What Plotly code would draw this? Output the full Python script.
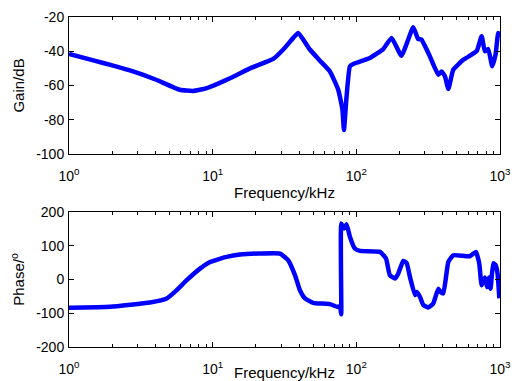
import plotly.graph_objects as go

# ---- data ----
freq_gain = [1, 1.5, 2, 2.79, 4, 5.9, 7.3, 9.1, 13.8, 18.2, 26.4, 31, 36.4, 39.4, 47.5, 55.8,
             65.5, 74.8, 80, 82, 85.2, 90.2, 96, 124, 154, 176, 206, 249, 269, 284, 325, 372,
             392, 414, 437, 473, 555, 687, 745, 785, 828, 883, 931, 972, 1000]
gain_db = [-41.5, -45.5, -48.3, -51.8, -56.5, -62.5, -63.2, -61.5, -55, -50, -44.5, -39, -32.2,
           -29.3, -39, -45.5, -51.8, -62.5, -74, -86, -68, -48.8, -47.3, -44, -38.7, -32.2,
           -42.6, -26, -32.8, -33.2, -43, -53.7, -51.8, -54.7, -62, -50.8, -45, -40, -31.2,
           -40, -38.7, -48.8, -42, -29.3, -31]

freq_phase = [1, 1.93, 3.66, 4.79, 5.6, 6.6, 8.2, 9.6, 12.5, 15.5, 21, 29.4, 33.6, 37.4, 40.5,
              43.9, 50, 65.5, 73.6, 76.9, 78.5, 78.6, 82.4, 85.5, 90.2, 97.7, 106, 146, 161,
              171, 186, 196, 212, 224, 236, 256, 263, 277, 293, 317, 343, 372, 386, 403, 437,
              473, 617, 679, 717, 745, 785, 815, 841, 860, 898, 931, 960, 990]
phase_deg = [-84, -81, -68, -56, -32, -2, 33, 52, 67, 74, 77, 77, 57, 13, -32, -56, -69, -73,
             -81, -79, -103, 166, 151, 164, 127, 92, 85, 82, 62, 13, 3, 18, 55, 49, 8, -46,
             -37, -51, -76, -83, -71, -27, -37, -41, 52, 72, 69, 82, 48, -17, 6, -22, 6, -27,
             48, 43, 20, -56]

gain_ticks = [-100, -80, -60, -40, -20]
gain_tick_text = ["-100", "-80", "-60", "-40", "-20"]
phase_ticks = [-200, -100, 0, 100, 200]
phase_tick_text = ["-200", "-100", "0", "100", "200"]
freq_ticks = [1, 10, 100, 1000]
freq_tick_text = ["10<sup>0</sup>", "10<sup>1</sup>", "10<sup>2</sup>", "10<sup>3</sup>"]
minor_ticks = [m * 10 ** d for d in range(3) for m in range(2, 10)]

LINE = dict(color="#0000ff", width=4.5, shape="spline", smoothing=0.4)
FAMILY = "Liberation Sans, Arial, sans-serif"
TICKFONT = dict(family=FAMILY, size=14, color="black")
TITLEFONT = dict(family=FAMILY, size=15, color="black")

fig = go.Figure()
fig.add_trace(go.Scatter(x=freq_gain, y=gain_db, mode="lines", line=LINE,
                         xaxis="x", yaxis="y", showlegend=False, hoverinfo="skip"))
fig.add_trace(go.Scatter(x=freq_phase, y=phase_deg, mode="lines", line=LINE,
                         xaxis="x2", yaxis="y2", showlegend=False, hoverinfo="skip"))

def xax(anchor, standoff):
    return dict(type="log", range=[0, 3], tickvals=freq_ticks, ticktext=freq_tick_text,
                ticks="inside", ticklen=5, tickcolor="black", showline=True, linecolor="black",
                linewidth=1, mirror="ticks", showgrid=False, zeroline=False,
                minor=dict(tickvals=minor_ticks, ticks="inside", ticklen=3, tickcolor="black",
                           showgrid=False),
                title=dict(text="Frequency/kHz", font=TITLEFONT, standoff=standoff),
                tickfont=TICKFONT, ticklabelstandoff=9, ticklabeloverflow="allow",
                automargin=False, anchor=anchor)

def yax(rng, ticks, text, title, domain, anchor):
    return dict(range=rng, tickvals=ticks, ticktext=text, ticks="inside", ticklen=5,
                tickcolor="black", showline=True, linecolor="black", linewidth=1,
                mirror="ticks", showgrid=False, zeroline=False, domain=domain, anchor=anchor,
                title=dict(text=title, font=TITLEFONT, standoff=7), tickfont=TICKFONT,
                ticklabelstandoff=1, automargin=False)

fig.update_layout(
    width=514, height=381,
    margin=dict(l=69, r=14, t=17, b=34),
    paper_bgcolor="white", plot_bgcolor="white",
    font=TICKFONT,
    xaxis=xax("y", 4),
    yaxis=yax([-100, -20], gain_ticks, gain_tick_text, "Gain/dB", [0.585, 1.0], "x"),
    xaxis2=xax("y2", 4),
    yaxis2=yax([-200, 200], phase_ticks, phase_tick_text, "Phase/<sup>o</sup>",
               [0.0, 0.409], "x2"),
)

fig.write_html("out.html",
               config={"displayModeBar": False, "staticPlot": True},
               post_script="document.body.style.margin='0px';"
                           "document.body.style.overflow='hidden';")
